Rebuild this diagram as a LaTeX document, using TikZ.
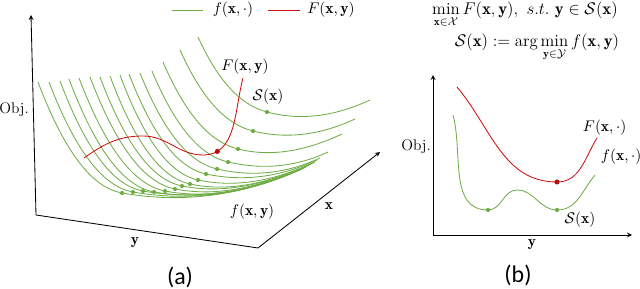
\documentclass[tikz,border=0pt]{standalone}
\usepackage{amsmath,amssymb}
\usepackage{fontspec}
\newfontfamily\capfont{Carlito}
\definecolor{fgreen}{RGB}{112,173,71}
\definecolor{fred}{RGB}{204,16,16}

\begin{document}
\begin{tikzpicture}[x=0.025cm, y=0.025cm, >=stealth, font=\fontsize{11}{13}\selectfont,
  axis/.style={black, line width=0.6pt},
  fcurve/.style={fgreen, line width=0.6pt},
  Fcurve/.style={fred, line width=0.6pt},
  fdot/.style={fill=fgreen},
  Fdot/.style={fill=fred!90!black},
  caption/.style={font=\capfont\fontsize{17}{20}\selectfont},
  eqn/.style={font=\fontsize{12}{14}\selectfont, anchor=base, inner sep=0pt}]
\useasboundingbox (0,0) rectangle (640,289);

% (a)
\coordinate (a-top) at (31,274);
\coordinate (a-orig) at (36,74);
\coordinate (a-yend) at (258,41);
\coordinate (a-xend) at (380,137);
\draw[axis, <->] (a-top) -- (a-orig) -- (a-yend) -- (a-xend);
\node (a-obj) at (14,179) {Obj.};
\node (a-y) at (135,46) {$\mathbf{y}$};
\node (a-x) at (329,83) {$\mathbf{x}$};
\node[caption] (a-cap) at (180,12) {(a)};

\foreach \sx/\sy/\dx/\dy/\ex/\ey/\a [count=\i] in {
  38/207/122/96/303/121/-10, 49/207/133/97/304/121/-10,
  60/208/143/98/305/122/-10, 69/210/154/97/306/122/-10,
  79/211/165/98/307/123/-11, 90/212/175/100/309/124/-11,
  100/212/182/103/311/125/-11, 110/213/190/105/313/126/-12,
  120/214/198/109/315/127/-12, 129/215/206/115/317/129/-12,
  140/216/217/120/320/131/-13, 152/218/228/127/328/137/-13,
  163/227/238/140/342/155/-14, 180/239/253/158/355/170/-14,
  198/252/267/177/370/189/-15} {
  \coordinate (s\i) at (\sx,\sy);
  \coordinate (m\i) at (\dx,\dy);
  \coordinate (e\i) at (\ex,\ey);
  \draw[fcurve] (s\i) .. controls ({\sx+(\dx-\sx)/3},{(\sy+2*\dy)/3})
    and ({\dx-(\dx-\sx)/3},{\dy-(\dx-\sx)/3*tan(\a)}) .. (m\i)
    .. controls ({\dx+(\ex-\dx)/3},{\dy+(\ex-\dx)/3*tan(\a)})
    and ({\ex-(\ex-\dx)/3},{\ey-(\ex-\dx)/3*tan(25)}) .. (e\i);
  \fill[fdot] (m\i) circle (1.5pt);
}

\coordinate (r-start) at (84,131);
\coordinate (r-peak) at (143,153);
\coordinate (r-low) at (203,134);
\coordinate (r-end) at (243,211);
\draw[Fcurve] (r-start) to[out=35,in=180] (r-peak) to[out=0,in=180] (r-low)
  to[out=0,in=-105] coordinate[pos=0.17] (r-dot) (r-end);
\fill[Fdot] (r-dot) circle (1.8pt);
\node (a-Flab) at (245,222) {$F(\mathbf{x},\mathbf{y})$};
\node (a-Slab) at (268,192) {$\mathcal{S}(\mathbf{x})$};
\node (a-flab) at (252,77) {$f(\mathbf{x},\mathbf{y})$};

\coordinate (lg-f1) at (172,279);
\coordinate (lg-f2) at (203,279);
\coordinate (lg-F1) at (268,279);
\coordinate (lg-F2) at (300,279);
\draw[fcurve] (lg-f1) -- (lg-f2);
\node (lg-flab) at (233,279) {$f(\mathbf{x},\cdot)$};
\draw[Fcurve] (lg-F1) -- (lg-F2);
\node (lg-Flab) at (331,279) {$F(\mathbf{x},\mathbf{y})$};

% (b)
\node[eqn] (eq1) at (525,274) {$\min\limits_{\mathbf{x}\in\mathcal{X}} F(\mathbf{x},\mathbf{y}),\ s.t.\ \mathbf{y}\in\mathcal{S}(\mathbf{x})$};
\node[eqn] (eq2) at (537,242) {$\mathcal{S}(\mathbf{x}) := \arg\min\limits_{\mathbf{y}\in\mathcal{Y}} f(\mathbf{x},\mathbf{y})$};

\coordinate (b-top) at (433,214);
\coordinate (b-orig) at (433,54);
\coordinate (b-xend) at (632,54);
\draw[axis, <->] (b-top) -- (b-orig) -- (b-xend);
\node (b-obj) at (416,142) {Obj.};
\node (b-y) at (532,44) {$\mathbf{y}$};
\node[caption] (b-cap) at (518,14) {(b)};

\coordinate (bF-start) at (457,202);
\coordinate (bF-min) at (557,107);
\coordinate (bF-end) at (597,151);
\draw[Fcurve] (bF-start) to[out=-50,in=180] (bF-min) to[out=0,in=-122] (bF-end);
\fill[Fdot] (bF-min) circle (1.8pt);

\coordinate (bf-start) at (453,174);
\coordinate (bf-min1) at (488,79);
\coordinate (bf-hump) at (517,99);
\coordinate (bf-min2) at (557,79);
\coordinate (bf-end) at (595,114);
\draw[fcurve] (bf-start) to[out=-75,in=180] (bf-min1) to[out=0,in=180] (bf-hump)
  to[out=0,in=180] (bf-min2) to[out=0,in=-130] (bf-end);
\fill[fdot] (bf-min1) circle (1.5pt);
\fill[fdot] (bf-min2) circle (1.5pt);

\node[anchor=west] (b-Flab) at (578,161) {$F(\mathbf{x},\cdot)$};
\node[anchor=west] (b-flab) at (596,132) {$f(\mathbf{x},\cdot)$};
\node (b-Slab) at (580,69) {$\mathcal{S}(\mathbf{x})$};
\end{tikzpicture}
\end{document}
